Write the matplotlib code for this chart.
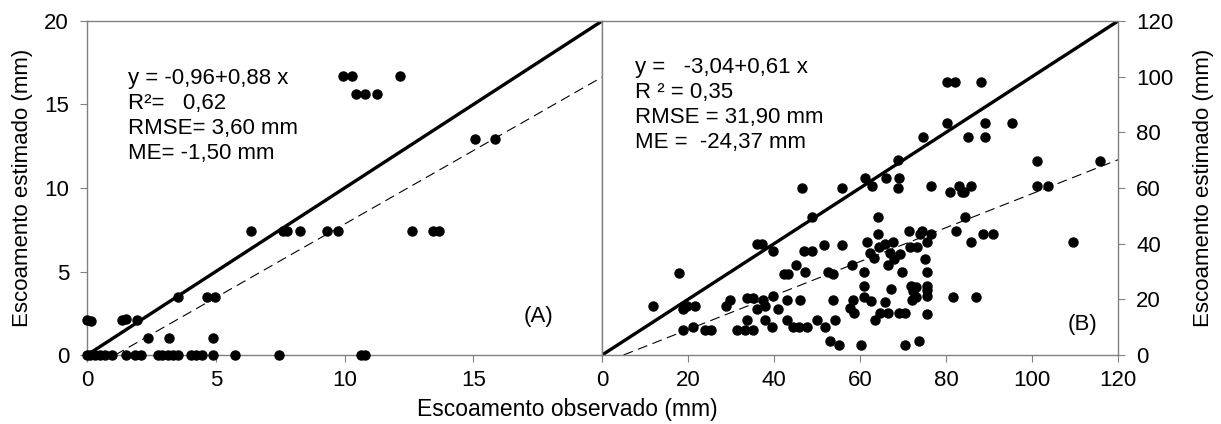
import numpy as np
import matplotlib
matplotlib.use("Agg")
import matplotlib.pyplot as plt

plt.rcParams['font.family'] = ['Liberation Sans', 'DejaVu Sans']

# painel A: observado x estimado (mm)
obs_a = [0.0, 0.15, 1.35, 1.5, 1.95, 2.35, 3.2, 4.9, 3.55, 4.65, 4.95,
         6.35, 7.6, 7.75, 8.25, 9.3, 9.75, 12.6, 13.45, 13.65,
         9.95, 10.3, 12.15, 10.45, 10.8, 11.25, 15.05, 15.85,
         0.0, 0.12, 0.3, 0.5, 0.7, 0.95, 1.5, 1.85, 2.1, 2.75, 2.9, 3.15,
         3.35, 3.55, 4.05, 4.25, 4.45, 4.9, 5.75, 7.45, 10.65, 10.8]
est_a = [2.1, 2.05, 2.1, 2.15, 2.1, 1.0, 1.0, 1.0, 3.45, 3.45, 3.45,
         7.4, 7.4, 7.4, 7.4, 7.4, 7.4, 7.4, 7.4, 7.4,
         16.7, 16.7, 16.7, 15.65, 15.65, 15.65, 12.95, 12.95,
         0, 0, 0, 0, 0, 0, 0, 0, 0, 0, 0, 0,
         0, 0, 0, 0, 0, 0, 0, 0, 0, 0]

# painel B
obs_b = [11.8, 18.0, 18.9, 19.7, 21.6, 18.9, 21.2, 24.0, 25.3, 28.8, 29.8,
         31.3, 33.3, 35.2, 33.7, 33.6, 35.2, 37.5, 36.0, 37.9, 36.0, 37.1,
         39.7, 37.9, 39.6, 39.8, 40.8, 42.3, 43.2, 43.0, 43.0, 44.4, 45.9,
         47.6, 45.1, 46.0, 46.5, 47.2, 47.0, 48.9, 48.8, 49.9, 51.9, 54.2,
         51.6, 55.7, 52.6, 53.6, 53.8, 53.0, 55.0, 55.7, 57.7, 58.4, 58.6,
         58.2, 60.2, 60.9, 60.8, 60.9, 62.5, 61.6, 62.2, 63.3, 61.2, 62.7,
         63.5, 64.7, 66.6, 64.1, 64.1, 64.3, 65.8, 67.6, 65.8, 66.0, 66.4,
         67.0, 67.9, 69.3, 67.2, 68.9, 69.1, 68.9, 69.1, 70.5, 69.7, 70.5,
         71.4, 71.6, 73.2, 71.9, 73.0, 72.4, 72.0, 73.0, 73.8, 74.4, 73.9,
         76.6, 74.6, 75.5, 75.1, 75.5, 75.5, 75.5, 75.5, 75.5, 76.5,
         80.2, 82.1, 88.1, 80.2, 85.2, 89.1, 89.1, 95.3, 101.2, 115.7,
         80.8, 82.9, 83.7, 84.2, 85.7, 101.2, 103.6, 84.3, 82.3, 88.7, 91.0,
         85.7, 109.5, 81.5, 86.9]
est_b = [17.6, 29.6, 16.5, 17.7, 17.7, 9.0, 10.0, 9.0, 9.0, 17.6, 19.8,
         9.0, 9.0, 9.0, 12.6, 20.4, 20.4, 19.8, 16.4, 17.6, 39.9, 39.9,
         37.4, 12.6, 10.0, 21.2, 16.4, 29.0, 29.0, 19.8, 12.6, 10.2, 10.2,
         10.2, 32.3, 19.8, 60.1, 29.7, 37.4, 37.4, 49.7, 12.6, 10.2, 12.6,
         39.5, 39.5, 29.7, 29.0, 19.8, 5.0, 3.6, 60.1, 16.8, 19.8, 15.0,
         32.3, 3.6, 29.7, 24.9, 21.0, 19.4, 40.7, 36.5, 34.7, 63.5, 60.7,
         12.6, 15.0, 15.0, 49.7, 43.5, 38.9, 39.9, 40.7, 19.2, 63.5, 32.3,
         36.5, 34.5, 36.3, 23.7, 70.1, 63.5, 60.1, 15.0, 15.0, 29.7, 3.6,
         44.7, 38.9, 38.9, 24.9, 24.3, 23.1, 19.8, 21.0, 5.0, 44.7, 43.4,
         43.4, 78.5, 40.7, 34.5, 29.7, 24.9, 23.4, 21.3, 14.7, 60.8,
         98.2, 98.2, 98.2, 83.3, 78.4, 78.4, 83.3, 83.3, 69.7, 69.7,
         58.5, 60.8, 58.5, 58.5, 60.8, 60.8, 60.8, 49.7, 44.7, 43.5, 43.5,
         40.7, 40.7, 21.0, 21.0]

fit_a = (-0.96, 0.88)
fit_b = (-3.04, 0.61)
txt_a = "y = -0,96+0,88 x\nR²=   0,62\nRMSE= 3,60 mm\nME= -1,50 mm"
txt_b = "y =   -3,04+0,61 x\nR ² = 0,35\nRMSE = 31,90 mm\nME =  -24,37 mm"

fig = plt.figure(figsize=(12.21, 4.24), dpi=100)
ax1 = fig.add_axes([0.0713, 0.1627, 0.4218, 0.7878])
ax2 = fig.add_axes([0.4931, 0.1627, 0.4226, 0.7878])

gray = '#808080'
fs = 16


def style(ax):
    for s in ax.spines.values():
        s.set_color(gray)
        s.set_linewidth(1.0)
    ax.tick_params(colors='black', labelsize=fs, length=5, width=0.8,
                   direction='out', pad=6)
    ax.tick_params(axis='y', pad=8)
    ax.tick_params(axis='both', color=gray)


# painel A
lim = 20
ax1.plot([0, lim], [0, lim], color='black', lw=2.4, zorder=2)
x0 = -fit_a[0] / fit_a[1]
ax1.plot([x0, lim], [0, fit_a[0] + fit_a[1] * lim], color='black', lw=0.8,
         dashes=(9, 5), zorder=2)
ax1.plot(obs_a, est_a, 'o', color='black', ms=6.5, clip_on=False, zorder=3)
ax1.set_xlim(0, lim)
ax1.set_ylim(0, lim)
ax1.set_xticks([0, 5, 10, 15, 20])
ax1.set_xticklabels(['0', '5', '10', '15', ''])
ax1.set_yticks([0, 5, 10, 15, 20])
ax1.set_ylabel('Escoamento estimado (mm)', fontsize=fs, labelpad=8)
ax1.text(0.08, 0.86, txt_a, transform=ax1.transAxes, fontsize=16,
         va='top', ha='left', linespacing=1.25)
ax1.text(0.847, 0.114, '(A)', transform=ax1.transAxes, fontsize=fs,
         ha='left', va='center')
style(ax1)

# painel B
lim = 120
ax2.plot([0, lim], [0, lim], color='black', lw=2.4, zorder=2)
x0 = -fit_b[0] / fit_b[1]
ax2.plot([x0, lim], [0, fit_b[0] + fit_b[1] * lim], color='black', lw=0.8,
         dashes=(9, 5), zorder=2)
ax2.plot(obs_b, est_b, 'o', color='black', ms=6.5, clip_on=False, zorder=3)
ax2.set_xlim(0, lim)
ax2.set_ylim(0, lim)
ax2.set_xticks(range(0, 121, 20))
ax2.set_yticks(range(0, 121, 20))
ax2.yaxis.tick_right()
ax2.yaxis.set_label_position('right')
ax2.set_ylabel('Escoamento estimado (mm)', fontsize=fs, labelpad=14)
ax2.text(0.063, 0.892, txt_b, transform=ax2.transAxes, fontsize=16,
         va='top', ha='left', linespacing=1.25)
ax2.text(0.903, 0.09, '(B)', transform=ax2.transAxes, fontsize=fs,
         ha='left', va='center')
style(ax2)

fig.text(0.465, 0.035, 'Escoamento observado (mm)', fontsize=fs + 0.5,
         ha='center', va='center')

fig.savefig('out.png', dpi=100)
